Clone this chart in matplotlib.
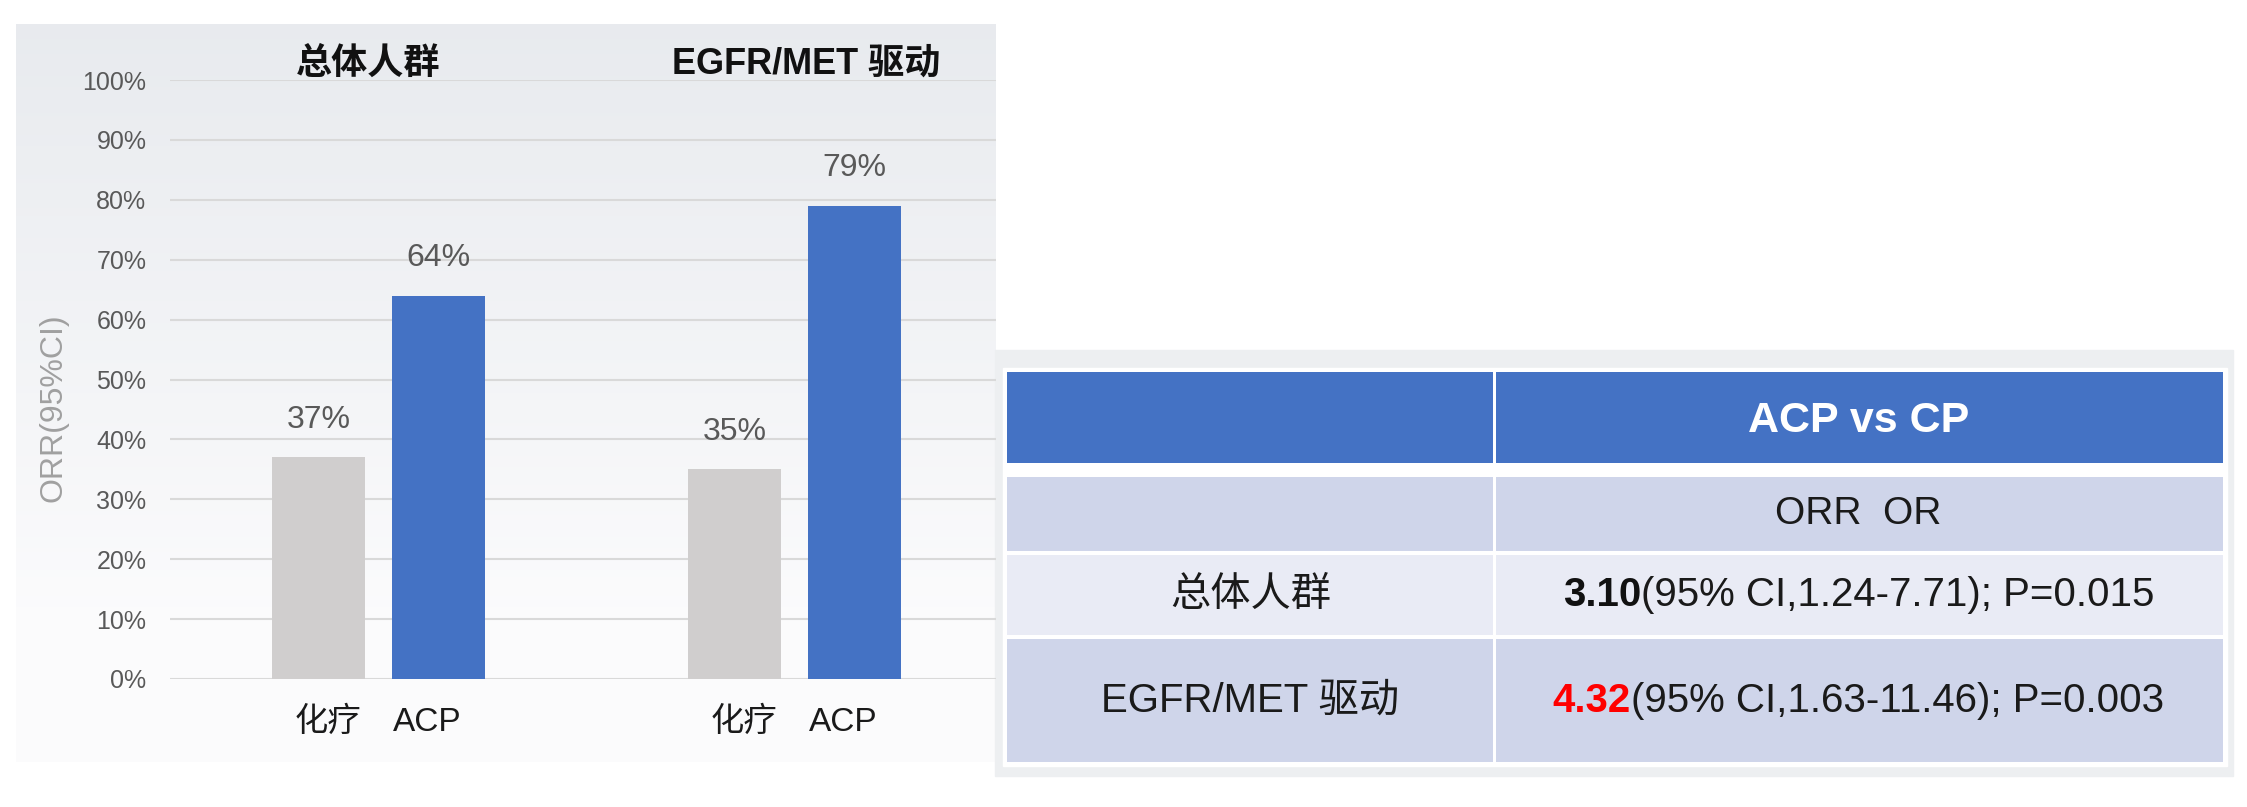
import numpy as np
import matplotlib
matplotlib.use('Agg')
import matplotlib.pyplot as plt
from matplotlib import font_manager
from matplotlib.patches import Rectangle

# data
groups = ['总体人群', 'EGFR/MET 驱动']
arms = ['化疗', 'ACP']
chemo_orr = [37, 35]
acp_orr = [64, 79]
yticks = [0, 10, 20, 30, 40, 50, 60, 70, 80, 90, 100]
ylabel = 'ORR(95%CI)'

table_header = 'ACP vs CP'
table_subheader = 'ORR  OR'
or_rows = ['总体人群', 'EGFR/MET 驱动']
or_values = ['3.10', '4.32']
or_details = ['(95% CI,1.24-7.71); P=0.015', '(95% CI,1.63-11.46); P=0.003']

# styles
value_colors = ['#111111', '#ff0000']
bar_colors = ['#d0cece', '#4472c4']
W, H = 2247, 807

names = {f.name for f in font_manager.fontManager.ttflist}
narrow = 'Liberation Sans Narrow' in names
num_font = ['Liberation Sans Narrow' if narrow else 'Liberation Sans', 'Noto Sans CJK SC']
txt_font = ['Liberation Sans', 'Noto Sans CJK SC']
plt.rcParams['font.family'] = txt_font

fig = plt.figure(figsize=(W / 100, H / 100), dpi=100)
fig.patch.set_facecolor('white')

# background layer in pixel coordinates
bg = fig.add_axes([0, 0, 1, 1], zorder=0)
bg.set_xlim(0, W)
bg.set_ylim(H, 0)
bg.axis('off')

top_c = np.array([0.91, 0.92, 0.935])
bot_c = np.array([0.985, 0.985, 0.99])
t = np.clip(np.linspace(0, 1, 200) / 0.8, 0, 1)[:, None]
grad = (top_c * (1 - t) + bot_c * t)[:, None, :]
bg.imshow(grad, extent=(16, 996, 762, 24), aspect='auto', zorder=0)

# bar chart
ax = fig.add_axes([170 / W, 1 - 679 / H, (996 - 170) / W, (679 - 80) / H], zorder=1)
ax.patch.set_alpha(0)
x = np.arange(len(groups))
off, bw = 0.144, 0.224
for i, (vals, col) in enumerate(zip([chemo_orr, acp_orr], bar_colors)):
    xs = x + (i * 2 - 1) * off
    ax.bar(xs, vals, width=bw, color=col, zorder=2)
    for xx, v in zip(xs, vals):
        ax.annotate(f'{v}%', (xx, v), xytext=(0, 27), textcoords='offset points',
                    ha='center', va='center', fontsize=27 if narrow else 23,
                    color='#595959', family=num_font)
    for xx in xs:
        ax.annotate(arms[i], (xx, 0), xytext=(7 if i == 0 else -8, -31),
                    textcoords='offset points', ha='center', va='center',
                    fontsize=24, color='#1a1a1a')

ax.set_xlim(-0.501, 1.484)
ax.set_ylim(0, 100)
ax.set_yticks(yticks)
ax.set_yticklabels([f'{v}%' for v in yticks], family=num_font)
ax.tick_params(axis='y', length=0, pad=17, labelsize=21 if narrow else 18, labelcolor='#595959')
ax.set_xticks([])
ax.yaxis.grid(True, color='#d9d9d9', lw=1.5)
ax.set_axisbelow(True)
for s in ax.spines.values():
    s.set_visible(False)

fig.text(53 / W, 1 - 408 / H, ylabel, rotation=90, ha='center', va='center',
         fontsize=23, color='#a0a0a0')

for gx, name in zip([368, 806], groups):
    fig.text(gx / W, 1 - 64 / H, name, ha='center', va='center', fontsize=26,
             fontweight='bold', color='#111111')

# table
bg.add_patch(Rectangle((995, 350), 2233 - 995, 776 - 350, color='#edeff1', zorder=1))
bg.add_patch(Rectangle((1003, 368), 2227 - 1003, 766 - 368, color='white', zorder=2))
split = 1494
rows_y = [(372, 463), (477, 551), (555, 635), (639, 762)]
row_cols = ['#4472c4', '#cfd5ea', '#e9ebf5', '#cfd5ea']
for (y0, y1), c in zip(rows_y, row_cols):
    bg.add_patch(Rectangle((1007, y0), split - 1.5 - 1007, y1 - y0, color=c, zorder=3, lw=0))
    bg.add_patch(Rectangle((split + 1.5, y0), 2223 - split - 1.5, y1 - y0, color=c, zorder=3, lw=0))

lx = (1007 + split) / 2
rx = (split + 2223) / 2
bg.text(rx, sum(rows_y[0]) / 2 + 3, table_header, ha='center', va='center', fontsize=31,
        fontweight='bold', color='white', zorder=4)
bg.text(rx, sum(rows_y[1]) / 2, table_subheader, ha='center', va='center', fontsize=28,
        color='#1a1a1a', zorder=4)

renderer = fig.canvas.get_renderer()
for k, (name, val, det) in enumerate(zip(or_rows, or_values, or_details)):
    yc = sum(rows_y[k + 2]) / 2
    bg.text(lx, yc, name, ha='center', va='center', fontsize=29, color='#1a1a1a', zorder=4)
    t1 = bg.text(rx, yc, val, ha='left', va='center', fontsize=29, fontweight='bold',
                 color=value_colors[k], zorder=4)
    t2 = bg.annotate(det, xy=(1, 0), xycoords=t1, ha='left', va='bottom', fontsize=29,
                     color='#1a1a1a', zorder=4)
    w = t1.get_window_extent(renderer).width + t2.get_window_extent(renderer).width
    t1.set_x(rx - w / 2)

fig.savefig('out.png', dpi=100)
